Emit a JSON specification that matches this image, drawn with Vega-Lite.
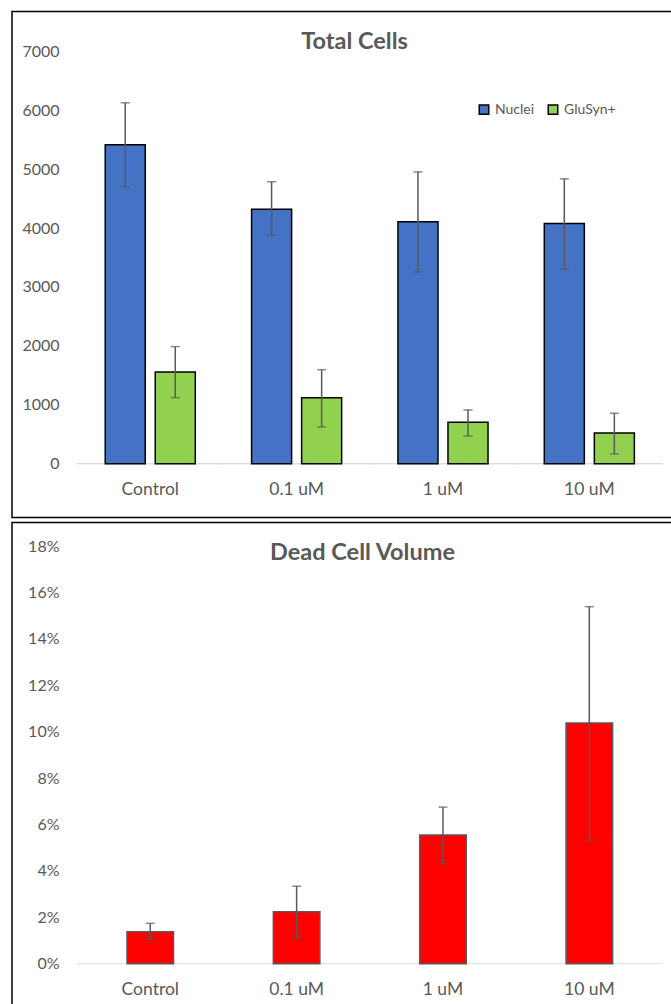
{
  "$schema": "https://vega.github.io/schema/vega-lite/v6.json",
  "padding": {"top": 10.5, "left": 11, "right": 0, "bottom": 0},
  "spacing": 5,
  "bounds": "flush",
  "config": {
    "font": "Lato",
    "view": {"stroke": "black", "strokeWidth": 1.5},
    "axis": {"labelColor": "#595959", "labelFont": "Lato", "ticks": false, "domain": false, "grid": false, "title": null},
    "title": {"color": "#595959", "font": "Lato", "fontWeight": "bold", "fontSize": 23.5}
  },
  "datasets": {
    "cells": [
      {"dose": "Control", "series": "Nuclei", "value": 5415, "lo": 4701, "hi": 6128},
      {"dose": "Control", "series": "GluSyn+", "value": 1558, "lo": 1121, "hi": 1988},
      {"dose": "0.1 uM", "series": "Nuclei", "value": 4322, "lo": 3880, "hi": 4786},
      {"dose": "0.1 uM", "series": "GluSyn+", "value": 1121, "lo": 623, "hi": 1596},
      {"dose": "1 uM", "series": "Nuclei", "value": 4106, "lo": 3257, "hi": 4955},
      {"dose": "1 uM", "series": "GluSyn+", "value": 703, "lo": 470, "hi": 912},
      {"dose": "10 uM", "series": "Nuclei", "value": 4077, "lo": 3303, "hi": 4837},
      {"dose": "10 uM", "series": "GluSyn+", "value": 521, "lo": 165, "hi": 856}
    ],
    "dead": [
      {"dose": "Control", "value": 0.0138, "lo": 0.0106, "hi": 0.0174},
      {"dose": "0.1 uM", "value": 0.0224, "lo": 0.0112, "hi": 0.0334},
      {"dose": "1 uM", "value": 0.0555, "lo": 0.0431, "hi": 0.0675},
      {"dose": "10 uM", "value": 0.1037, "lo": 0.0532, "hi": 0.1539}
    ]
  },
  "vconcat": [
    {
      "width": 663,
      "height": 506,
      "title": {"text": "Total Cells", "offset": -42, "dx": 11},
      "data": {"name": "cells"},
      "encoding": {
        "x": {
          "field": "dose", "type": "nominal",
          "sort": ["Control", "0.1 uM", "1 uM", "10 uM"],
          "scale": {"paddingInner": 0, "paddingOuter": 0.265, "align": 0.839},
          "axis": {"orient": "bottom", "offset": -53.8, "labelPadding": 17, "labelFontSize": 17.5, "labelAngle": 0}
        }
      },
      "layer": [
        {
          "mark": {"type": "tick", "orient": "horizontal", "size": 147, "thickness": 1.3, "color": "#d9d9d9"},
          "encoding": {
            "y": {"datum": 0, "type": "quantitative", "scale": {"domain": [-914, 7678], "nice": false, "zero": false}}
          }
        },
        {
          "mark": {"type": "bar", "stroke": "black", "strokeWidth": 1.5},
          "encoding": {
            "xOffset": {"field": "series", "type": "nominal", "sort": ["Nuclei", "GluSyn+"], "scale": {"paddingInner": 0.2, "paddingOuter": 0.5625}},
            "y": {"field": "value", "type": "quantitative",
                  "axis": {"values": [0, 1000, 2000, 3000, 4000, 5000, 6000, 7000], "format": "d", "offset": -49, "labelPadding": 2, "labelFontSize": 16}},
            "y2": {"datum": 0},
            "color": {
              "field": "series", "type": "nominal",
              "scale": {"domain": ["Nuclei", "GluSyn+"], "range": ["#4472C4", "#92D050"]},
              "legend": {"orient": "none", "legendX": 465, "legendY": 91, "direction": "horizontal", "title": null,
                         "symbolType": "square", "symbolSize": 90, "symbolStrokeColor": "black", "symbolStrokeWidth": 1.5,
                         "labelFontSize": 14, "labelColor": "#595959", "labelFont": "Lato", "columnPadding": 10, "labelOffset": 4}
            }
          }
        },
        {
          "mark": {"type": "rule", "color": "#595959", "strokeWidth": 1.5},
          "encoding": {
            "xOffset": {"field": "series", "type": "nominal", "sort": ["Nuclei", "GluSyn+"]},
            "y": {"field": "lo", "type": "quantitative"},
            "y2": {"field": "hi"}
          }
        },
        {
          "mark": {"type": "tick", "orient": "horizontal", "size": 9, "thickness": 1.5, "color": "#595959"},
          "encoding": {
            "xOffset": {"field": "series", "type": "nominal", "sort": ["Nuclei", "GluSyn+"]},
            "y": {"field": "lo", "type": "quantitative"}
          }
        },
        {
          "mark": {"type": "tick", "orient": "horizontal", "size": 9, "thickness": 1.5, "color": "#595959"},
          "encoding": {
            "xOffset": {"field": "series", "type": "nominal", "sort": ["Nuclei", "GluSyn+"]},
            "y": {"field": "hi", "type": "quantitative"}
          }
        }
      ]
    },
    {
      "width": 663,
      "height": 486,
      "title": {"text": "Dead Cell Volume", "offset": -42, "dx": 19},
      "data": {"name": "dead"},
      "encoding": {
        "x": {
          "field": "dose", "type": "nominal",
          "sort": ["Control", "0.1 uM", "1 uM", "10 uM"],
          "scale": {"paddingInner": 0, "paddingOuter": 0.265, "align": 0.839},
          "axis": {"orient": "bottom", "offset": -44.8, "labelPadding": 17, "labelFontSize": 17.5, "labelAngle": 0}
        }
      },
      "layer": [
        {
          "mark": {"type": "tick", "orient": "horizontal", "size": 147, "thickness": 1.3, "color": "#d9d9d9"},
          "encoding": {
            "y": {"datum": 0, "type": "quantitative", "scale": {"domain": [-0.01931, 0.19017], "nice": false, "zero": false}}
          }
        },
        {
          "mark": {"type": "bar", "color": "#FF0000", "stroke": "#595959", "strokeWidth": 1.5, "width": {"band": 0.318}},
          "encoding": {
            "y": {"field": "value", "type": "quantitative",
                  "axis": {"values": [0, 0.02, 0.04, 0.06, 0.08, 0.1, 0.12, 0.14, 0.16, 0.18], "format": ".0%", "offset": -49, "labelPadding": 2, "labelFontSize": 16}},
            "y2": {"datum": 0}
          }
        },
        {
          "mark": {"type": "rule", "color": "#595959", "strokeWidth": 1.5},
          "encoding": {
            "y": {"field": "lo", "type": "quantitative"},
            "y2": {"field": "hi"}
          }
        },
        {
          "mark": {"type": "tick", "orient": "horizontal", "size": 9, "thickness": 1.5, "color": "#595959"},
          "encoding": {"y": {"field": "lo", "type": "quantitative"}}
        },
        {
          "mark": {"type": "tick", "orient": "horizontal", "size": 9, "thickness": 1.5, "color": "#595959"},
          "encoding": {"y": {"field": "hi", "type": "quantitative"}}
        }
      ]
    }
  ]
}
